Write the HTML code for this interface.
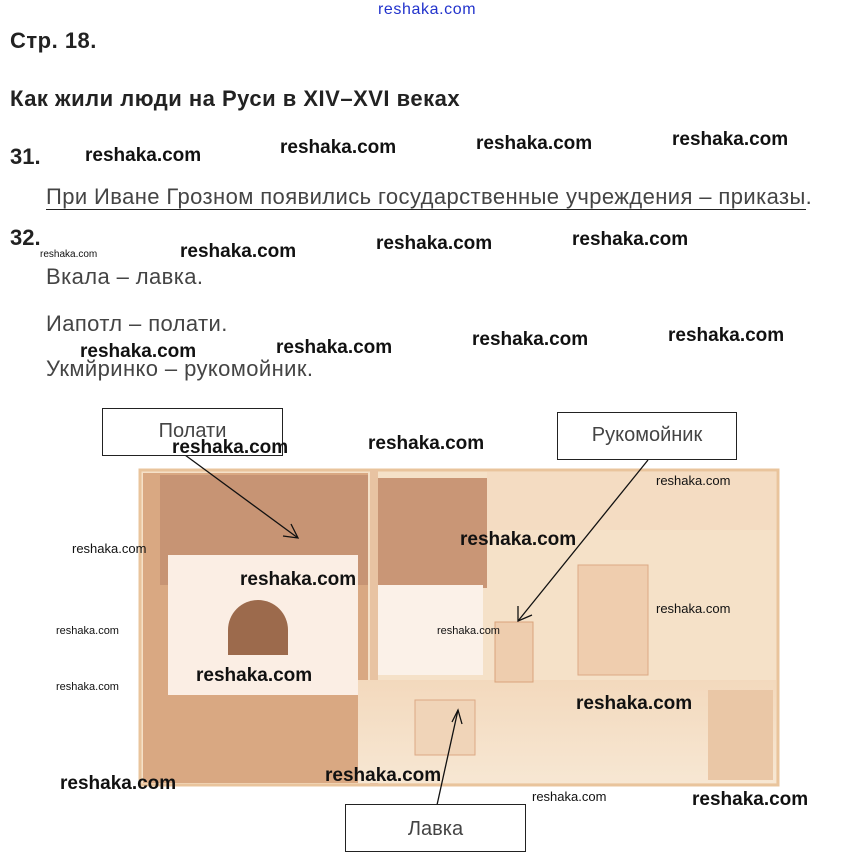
<!DOCTYPE html>
<html><head><meta charset="utf-8"><style>
body{margin:0;width:851px;height:864px;background:#fff;position:relative;overflow:hidden;font-family:"Liberation Sans",sans-serif}
.a{position:absolute;white-space:nowrap}
.w{position:absolute;white-space:nowrap;font-weight:bold;font-size:19px;color:#111;line-height:1}
.ws{position:absolute;white-space:nowrap;font-size:11px;color:#111;line-height:1}
.g{color:#444;font-size:22px;line-height:1;letter-spacing:0.4px}
.h{font-size:22px;font-weight:bold;color:#222;line-height:1}
.box{position:absolute;border:1.5px solid #222;background:#fff;font-size:20px;color:#444;text-align:center;box-sizing:border-box}
</style></head><body>
<div class="a" style="left:378px;top:2px;font-size:16px;letter-spacing:0.6px;color:#2233cc;line-height:1">reshaka.com</div>
<div class="a h" style="left:10px;top:30px;letter-spacing:0.5px">Стр. 18.</div>
<div class="a h" style="left:10px;top:88px;letter-spacing:0.5px">Как жили люди на Руси в XIV–XVI веках</div>
<div class="a h" style="left:10px;top:146px">31.</div>
<div class="a h" style="left:10px;top:227px">32.</div>
<div class="a g" style="left:46px;top:186px"><span style="border-bottom:1.5px solid #222;padding-bottom:0px">При Иване Грозном появились государственные учреждения – приказы</span>.</div>
<div class="a g" style="left:46px;top:266px">Вкала – лавка.</div>
<div class="a g" style="left:46px;top:313px">Иапотл – полати.</div>
<div class="a g" style="left:46px;top:358px">Укмйринко – рукомойник.</div>

<svg class="a" style="left:0;top:0" width="851" height="864">
<defs><linearGradient id="fl" x1="0" y1="0" x2="0" y2="1"><stop offset="0" stop-color="#f3d9bd"/><stop offset="1" stop-color="#f7e7d3"/></linearGradient></defs>
<rect x="140" y="470" width="638" height="315" fill="#f5e1c8" stroke="#e9c49c" stroke-width="3"/>
<rect x="143" y="473" width="225" height="310" fill="#d9a882"/>
<rect x="160" y="475" width="208" height="110" fill="#c79474"/>
<rect x="375" y="478" width="112" height="110" fill="#c99676"/>
<rect x="168" y="555" width="190" height="140" fill="#fbeee4"/>
<rect x="378" y="585" width="105" height="90" fill="#fbf1e8"/>
<path d="M228 655 v-25 a30 30 0 0 1 60 0 v25z" fill="#9c6a4c"/>
<rect x="370" y="470" width="8" height="315" fill="#e8c3a2"/>
<rect x="487" y="472" width="289" height="58" fill="#f4dcc2"/>
<rect x="578" y="565" width="70" height="110" fill="#efcdae" stroke="#dca985"/>
<rect x="358" y="680" width="418" height="103" fill="url(#fl)"/>
<rect x="708" y="690" width="65" height="90" fill="#eac7a6"/>
<rect x="415" y="700" width="60" height="55" fill="#f0d4b8" stroke="#dca985"/>
<rect x="495" y="622" width="38" height="60" fill="#eecdae" stroke="#d9a37c"/>
<g stroke="#111" stroke-width="1.3" fill="none">
<line x1="185" y1="455" x2="298" y2="538"/><path d="M283 536 L298 538 L291 524"/>
<line x1="648" y1="460" x2="518" y2="621"/><path d="M518 606 L518 621 L532 615"/>
<line x1="437" y1="805" x2="458" y2="710"/><path d="M452 722 L458 710 L462 724"/>
</g>
</svg>

<div class="box" style="left:102px;top:408px;width:181px;height:48px;padding-top:11px">Полати</div>
<div class="box" style="left:557px;top:412px;width:180px;height:48px;padding-top:11px">Рукомойник</div>
<div class="box" style="left:345px;top:804px;width:181px;height:48px;padding-top:13px">Лавка</div>

<div class="w" style="left:85px;top:146px">reshaka.com</div>
<div class="w" style="left:280px;top:138px">reshaka.com</div>
<div class="w" style="left:476px;top:134px">reshaka.com</div>
<div class="w" style="left:672px;top:130px">reshaka.com</div>
<div class="w" style="left:180px;top:242px">reshaka.com</div>
<div class="w" style="left:376px;top:234px">reshaka.com</div>
<div class="w" style="left:572px;top:230px">reshaka.com</div>
<div class="w" style="left:80px;top:342px">reshaka.com</div>
<div class="w" style="left:276px;top:338px">reshaka.com</div>
<div class="w" style="left:472px;top:330px">reshaka.com</div>
<div class="w" style="left:668px;top:326px">reshaka.com</div>
<div class="w" style="left:172px;top:438px">reshaka.com</div>
<div class="w" style="left:368px;top:434px">reshaka.com</div>
<div class="w" style="left:460px;top:530px">reshaka.com</div>
<div class="w" style="left:240px;top:570px">reshaka.com</div>
<div class="w" style="left:196px;top:666px">reshaka.com</div>
<div class="w" style="left:576px;top:694px">reshaka.com</div>
<div class="w" style="left:60px;top:774px">reshaka.com</div>
<div class="w" style="left:325px;top:766px">reshaka.com</div>
<div class="w" style="left:692px;top:790px">reshaka.com</div>
<div class="ws" style="left:40px;top:250px;font-size:10px">reshaka.com</div>
<div class="ws" style="left:72px;top:542px;font-size:13px">reshaka.com</div>
<div class="ws" style="left:656px;top:474px;font-size:13px">reshaka.com</div>
<div class="ws" style="left:656px;top:602px;font-size:13px">reshaka.com</div>
<div class="ws" style="left:56px;top:626px">reshaka.com</div>
<div class="ws" style="left:56px;top:682px">reshaka.com</div>
<div class="ws" style="left:437px;top:626px">reshaka.com</div>
<div class="ws" style="left:532px;top:790px;font-size:13px">reshaka.com</div>
</body></html>
